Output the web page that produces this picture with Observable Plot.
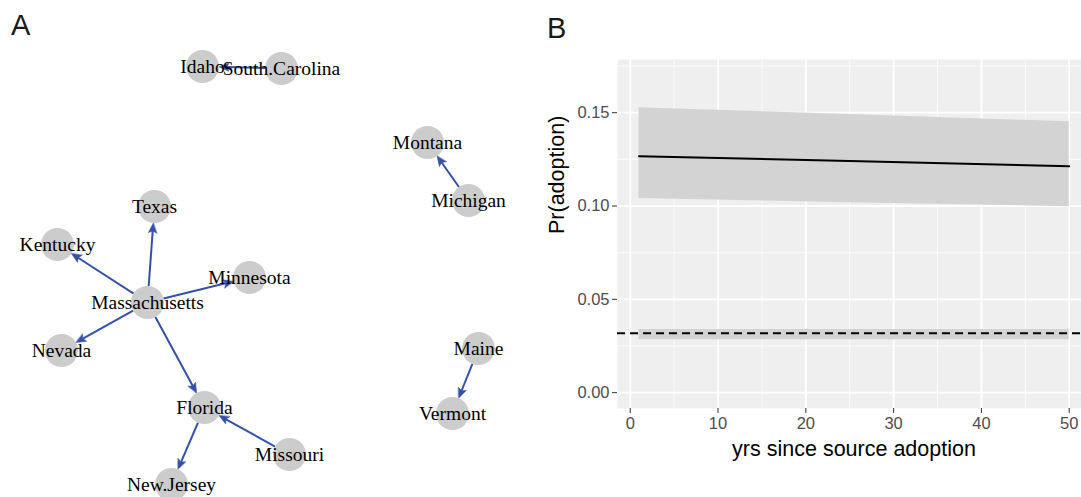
<!DOCTYPE html>
<html>
<head>
<meta charset="utf-8">
<script src="https://cdn.jsdelivr.net/npm/d3@7"></script>
<script src="https://cdn.jsdelivr.net/npm/@observablehq/plot@0.6"></script>
<style>
  html, body { margin: 0; padding: 0; background: #ffffff; overflow: hidden; }
  #root { position: relative; width: 1081px; height: 497px; }
  .panel { position: absolute; top: 0; }
  .tag { position: absolute; font-family: "Liberation Sans", Arial, sans-serif; font-size: 29px; color: #1a1a1a; line-height: 1; }
</style>
</head>
<body>
<div id="root">
  <div id="panelA" class="panel" style="left:0px"></div>
  <div id="panelB" class="panel" style="left:540px"></div>
  <div class="tag" style="left:11px; top:11px">A</div>
  <div class="tag" style="left:547px; top:14px">B</div>
</div>
<script>
// ---------- Panel A: diffusion network (layout coordinates) ----------
const nodeNames = ["Idaho", "South.Carolina", "Montana", "Michigan", "Texas", "Kentucky",
  "Minnesota", "Massachusetts", "Nevada", "Florida", "Missouri", "New.Jersey", "Maine", "Vermont"];
const layoutX = [202, 281, 427, 468, 154, 57, 249, 147, 61, 204, 289, 171, 478, 452];
const layoutY = [66, 68, 142, 200, 206, 244, 277, 302, 350, 407, 454, 484, 348, 413];
const edgeFrom = ["South.Carolina", "Michigan", "Massachusetts", "Massachusetts", "Massachusetts",
  "Massachusetts", "Massachusetts", "Florida", "Missouri", "Maine"];
const edgeTo = ["Idaho", "Montana", "Texas", "Kentucky", "Minnesota",
  "Nevada", "Florida", "New.Jersey", "Florida", "Vermont"];

// ---------- Panel B: adoption probability ----------
const years = [1, 25, 50];
const fitMid = [0.1267, 0.1241, 0.1213];
const fitLo = [0.1040, 0.1018, 0.0996];
const fitHi = [0.1527, 0.1490, 0.1451];
const baseYears = [1, 50];
const baseLo = [0.0283, 0.0283];
const baseHi = [0.0338, 0.0338];
const baseRate = [0.0318];
const xTicks = [0, 10, 20, 30, 40, 50];
const xMinor = [5, 15, 25, 35, 45];
const yTicks = [0, 0.05, 0.10, 0.15];
const yMinor = [0.025, 0.075, 0.125, 0.175];

// ----- build panel A -----
const nodeR = 16.5;
const headLen = 10;
const edgeColor = "#3451A8";
const nodes = nodeNames.map((name, i) => ({name, x: layoutX[i], y: layoutY[i]}));
const byName = new Map(nodes.map(d => [d.name, d]));
const edges = edgeFrom.map((s, i) => {
  const a = byName.get(s), b = byName.get(edgeTo[i]);
  const dx = b.x - a.x, dy = b.y - a.y, len = Math.hypot(dx, dy);
  const ux = dx / len, uy = dy / len;
  return {
    x1: a.x + ux * nodeR, y1: a.y + uy * nodeR,
    x2: b.x - ux * (nodeR + headLen * 0.8), y2: b.y - uy * (nodeR + headLen * 0.8),
    tx: b.x - ux * nodeR, ty: b.y - uy * nodeR,
    angle: Math.atan2(ux, -uy) * 180 / Math.PI
  };
});
const headShape = {
  draw(ctx, l, r) {
    ctx.moveTo(0, 0);
    ctx.lineTo(-4.2, l);
    ctx.lineTo(0, l * 0.8);
    ctx.lineTo(4.2, l);
    ctx.closePath();
  }
};

const plotA = Plot.plot({
  width: 540, height: 497,
  marginTop: 0, marginRight: 0, marginBottom: 0, marginLeft: 0,
  x: {domain: [0, 540], range: [0, 540], axis: null},
  y: {domain: [0, 497], range: [0, 497], axis: null},
  marks: [
    Plot.link(edges, {x1: "x1", y1: "y1", x2: "x2", y2: "y2", stroke: edgeColor, strokeWidth: 2}),
    Plot.vector(edges, {x: "tx", y: "ty", rotate: "angle", length: headLen, anchor: "start",
      shape: headShape, fill: edgeColor, stroke: edgeColor, strokeWidth: 0.5}),
    Plot.dot(nodes, {x: "x", y: "y", r: nodeR, fill: "#CCCCCC", stroke: "none"}),
    Plot.text(nodes, {x: "x", y: "y", text: "name", fill: "#000000",
      fontFamily: "'Liberation Serif', 'Times New Roman', serif", fontSize: 19.5})
  ]
});
document.getElementById("panelA").appendChild(plotA);

// ----- build panel B -----
const fit = years.map((x, i) => ({x, mid: fitMid[i], lo: fitLo[i], hi: fitHi[i]}));
const base = baseYears.map((x, i) => ({x, lo: baseLo[i], hi: baseHi[i]}));

const plotB = Plot.plot({
  width: 541, height: 497,
  marginTop: 59, marginRight: 0, marginBottom: 89, marginLeft: 77,
  style: {fontFamily: "'Liberation Sans', Arial, sans-serif", fontSize: "16.5px", background: "transparent"},
  x: {domain: [-1.45, 51.40], axis: null},
  y: {domain: [-0.0085, 0.1785], axis: null},
  marks: [
    Plot.frame({fill: "#EFEFEF", stroke: "none"}),
    Plot.ruleY(yMinor, {stroke: "#ffffff", strokeWidth: 0.8}),
    Plot.ruleX(xMinor, {stroke: "#ffffff", strokeWidth: 0.8}),
    Plot.ruleY(yTicks, {stroke: "#ffffff", strokeWidth: 1.8}),
    Plot.ruleX(xTicks, {stroke: "#ffffff", strokeWidth: 1.8}),
    Plot.areaY(fit, {x: "x", y1: "lo", y2: "hi", fill: "#D3D3D3"}),
    Plot.areaY(base, {x: "x", y1: "lo", y2: "hi", fill: "#D3D3D3"}),
    Plot.line(fit, {x: "x", y: "mid", stroke: "#000000", strokeWidth: 2}),
    Plot.ruleY(baseRate, {stroke: "#000000", strokeWidth: 2, strokeDasharray: "8,5"}),
    Plot.axisY({ticks: yTicks, tickFormat: d3.format(".2f"), tickSize: 5, tickPadding: 3,
      stroke: "#333333", fill: "#4D4D4D", label: null, fontSize: 16.5}),
    Plot.axisX({ticks: xTicks, tickFormat: d3.format("d"), tickSize: 5, tickPadding: 4,
      stroke: "#333333", fill: "#4D4D4D", label: null, fontSize: 16.5}),
    Plot.text(["yrs since source adoption"], {frameAnchor: "bottom", dx: 4.5, dy: 41,
      lineAnchor: "middle", fill: "#000000", fontSize: 21.5}),
    Plot.text(["Pr(adoption)"], {frameAnchor: "left", dx: -60, rotate: -90,
      lineAnchor: "middle", fill: "#000000", fontSize: 21.5})
  ]
});
document.getElementById("panelB").appendChild(plotB);
</script>
</body>
</html>
